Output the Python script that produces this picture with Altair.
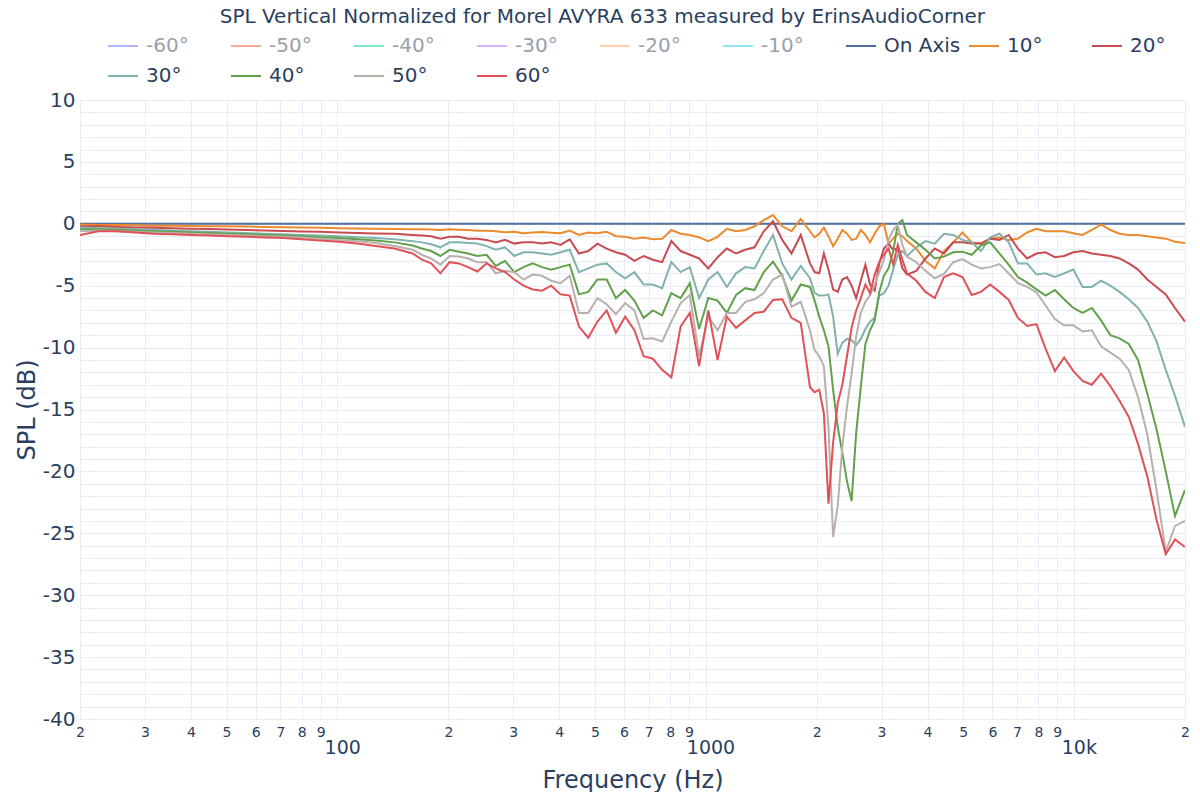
import altair as alt
import pandas as pd

TITLE = "SPL Vertical Normalized for Morel AVYRA 633 measured by ErinsAudioCorner"

SERIES_NAMES = ["-60°", "-50°", "-40°", "-30°", "-20°", "-10°", "On Axis",
                "10°", "20°", "30°", "40°", "50°", "60°"]
COLORS = ["#b1b6fc", "#f7aa9d", "#7fe5ca", "#d5b1fc", "#ffd0ac", "#8ce9f9", "#4e6d9e",
          "#ec8a2e", "#c84b52", "#82b2ae", "#62a04c", "#b8b0ac", "#e05258"]

FREQ = [
    20, 22.4, 25.2, 28.3, 31.7, 35.6, 40, 44.9, 50.4, 56.6, 63.5, 71.3, 80, 89.8, 100.8, 113, 127, 143,
    160, 169.5, 179.6, 190.3, 201.6, 213.6, 226.3, 239.7, 254, 269.1, 285.1, 302, 320, 339, 359.2, 380.5,
    403.2, 427.1, 452.5, 479.5, 508, 538.2, 570.2, 604.1, 640, 678.1, 718.4, 761.1, 806.4, 854.4, 905.1,
    959, 1016, 1076.5, 1140.5, 1208.3, 1280, 1356.1, 1436.8, 1522.3, 1612.8, 1708.8, 1810.4, 1918.2,
    1974.4, 2032.3, 2091.9, 2153.2, 2216.4, 2281.3, 2348.2, 2417.1, 2488, 2560, 2635.1, 2712.4, 2791.9,
    2873.8, 2958.1, 3044.8, 3134.1, 3226, 3320.6, 3418, 3518.2,
    3727.6, 3949.4, 4184.4, 4433.4, 4697.3, 4976.8, 5273, 5586, 5918, 6270, 6643, 7038, 7456, 7900, 8370,
    8867, 9394, 9953, 10545, 11172, 11836, 12540, 13285, 14075, 14912, 15799, 16739, 17734, 18788, 20000,
]

ON_AXIS_FREQ = [20, 20000]
ON_AXIS_DB = [0.0, 0.0]

DB_10 = [
    -0.05, -0.1, -0.1, -0.12, -0.15, -0.15, -0.18, -0.2, -0.2, -0.22, -0.25, -0.27, -0.3, -0.32, -0.35, -0.38, -0.4, -0.43,
    -0.45, -0.45, -0.47, -0.5, -0.45, -0.48, -0.5, -0.56, -0.56, -0.6, -0.68, -0.64, -0.77, -0.7, -0.67, -0.72,
    -0.77, -0.55, -0.9, -0.7, -0.77, -0.64, -1.0, -1.05, -1.2, -1.1, -1.25, -1.2, -0.5, -0.8, -0.9,
    -1.1, -1.4, -1.05, -0.4, -0.6, -0.5, -0.2, 0.3, 0.7, -0.2, -0.6, 0.4, -0.6,
    -1.1, -0.8, -0.3, -1.0, -1.8, -1.2, -0.5, -0.8, -1.3, -1.2, -0.5, -0.9, -1.5,
    -0.8, -0.2, 0.0, -1.6, -1.2, -0.8, -1.0, -1.4,
    -2.0, -3.0, -3.6, -2.2, -1.5, -0.7, -1.5, -1.6, -1.2, -1.1, -1.3, -1.2, -0.7, -0.4, -0.6,
    -0.6, -0.6, -0.77, -0.9, -0.5, -0.05, -0.5, -0.8, -0.9, -0.9, -1.0, -1.1, -1.2, -1.45, -1.55,
]

DB_20 = [
    -0.2, -0.2, -0.25, -0.3, -0.32, -0.35, -0.4, -0.43, -0.47, -0.5, -0.55, -0.58, -0.62, -0.65, -0.7, -0.75, -0.78, -0.8,
    -0.9, -0.95, -1.0, -1.2, -1.05, -1.05, -1.2, -1.2, -1.3, -1.5, -1.3, -1.6, -1.5, -1.5, -1.6, -1.5,
    -1.7, -1.25, -2.4, -2.2, -1.6, -2.0, -2.3, -2.5, -3.0, -2.6, -2.9, -3.1, -1.4, -2.2, -2.5,
    -2.8, -3.6, -2.7, -2.0, -2.4, -2.1, -1.9, -0.6, 0.2, -1.3, -2.4, -0.9, -3.2,
    -3.9, -4.0, -2.4, -3.7, -5.3, -5.5, -4.5, -4.3, -5.0, -6.0, -4.6, -3.3, -4.9,
    -5.4, -3.2, -2.0, -1.6, -2.1, -2.0, -3.6, -4.1,
    -3.8, -2.8, -2.0, -2.4, -1.5, -1.5, -1.6, -1.6, -1.2, -1.3, -0.9, -2.0, -2.8, -2.4, -2.3,
    -2.7, -2.6, -2.3, -2.2, -2.4, -2.5, -2.6, -2.8, -3.2, -3.7, -4.5, -5.1, -5.7, -6.8, -7.9,
]

DB_30 = [
    -0.3, -0.35, -0.4, -0.45, -0.5, -0.55, -0.6, -0.65, -0.7, -0.75, -0.8, -0.85, -0.9, -0.95, -1.0, -1.08, -1.15, -1.25,
    -1.4, -1.5, -1.65, -1.9, -1.5, -1.5, -1.55, -1.6, -1.8, -2.1, -1.9, -2.6, -2.3, -2.3, -2.4, -2.5,
    -2.3, -2.1, -3.9, -3.6, -3.3, -3.2, -3.9, -4.4, -3.9, -4.9, -4.9, -5.2, -3.1, -3.9, -3.5,
    -6.0, -4.5, -3.9, -5.1, -4.0, -3.5, -3.6, -2.2, -0.9, -3.2, -4.5, -3.4, -4.4,
    -5.6, -5.8, -5.8, -5.7, -7.5, -10.5, -9.6, -9.3, -9.4, -9.8, -9.3, -8.5, -7.9,
    -7.6, -5.8, -5.6, -5.0, -3.7, -2.5, -2.2, -2.6,
    -1.9, -1.4, -1.6, -0.8, -0.9, -1.3, -1.5, -2.2, -1.1, -0.8, -1.5, -3.2, -3.2, -4.1, -4.0,
    -4.3, -4.0, -3.7, -5.1, -5.1, -4.6, -5.0, -5.5, -6.1, -6.8, -7.9, -9.5, -11.8, -13.9, -16.4,
]

DB_40 = [
    -0.45, -0.45, -0.5, -0.55, -0.6, -0.65, -0.7, -0.75, -0.8, -0.85, -0.9, -0.95, -1.0, -1.08, -1.15, -1.25, -1.35, -1.5,
    -1.75, -2.0, -2.2, -2.6, -2.1, -2.25, -2.4, -2.6, -2.5, -3.4, -3.0, -3.9, -3.5, -3.2, -3.5, -3.7,
    -3.5, -3.3, -5.7, -5.5, -4.5, -4.5, -6.0, -5.35, -6.2, -7.6, -7.0, -7.4, -5.6, -6.0, -4.8,
    -8.5, -6.0, -6.2, -7.2, -5.75, -5.2, -5.35, -3.9, -3.06, -4.2, -6.2, -4.9, -5.1,
    -6.2, -7.5, -8.6, -9.9, -13.4, -16.4, -18.5, -20.8, -22.4, -16.9, -13.2, -9.7, -8.6,
    -7.8, -5.5, -4.2, -3.6, -2.25, 0.0, 0.3, -0.9,
    -1.5, -2.1, -2.8, -2.65, -2.3, -2.25, -2.5, -1.75, -1.5, -2.4, -3.3, -4.3, -4.75, -5.3, -5.8,
    -5.35, -6.1, -6.8, -7.2, -6.8, -7.8, -9.0, -9.25, -9.7, -11.0, -13.7, -16.6, -20.0, -23.6, -21.5,
]

DB_50 = [
    -0.6, -0.55, -0.6, -0.65, -0.7, -0.75, -0.8, -0.85, -0.9, -0.95, -1.0, -1.05, -1.1, -1.2, -1.3, -1.4, -1.55, -1.8,
    -2.1, -2.5, -2.8, -3.3, -2.6, -2.65, -2.8, -3.1, -3.1, -4.0, -3.8, -3.9, -4.5, -4.1, -4.2, -4.6,
    -4.8, -4.2, -7.2, -7.2, -6.0, -6.5, -7.3, -6.4, -7.0, -9.3, -9.25, -9.5, -7.9, -6.4, -5.75,
    -10.7, -7.5, -8.6, -7.2, -7.2, -6.3, -6.1, -5.6, -4.5, -4.1, -6.7, -6.3, -8.6,
    -10.2, -10.7, -11.5, -16.4, -25.3, -22.8, -18.0, -14.8, -12.1, -9.1, -7.2, -6.3, -5.75,
    -4.9, -3.9, -2.9, -1.3, -0.5, -0.1, -1.7, -2.65,
    -3.1, -3.8, -4.4, -4.05, -3.1, -2.85, -3.3, -3.6, -3.5, -3.25, -4.0, -4.8, -5.1, -5.55, -6.6,
    -7.7, -8.2, -8.2, -8.7, -8.6, -9.9, -10.4, -10.9, -11.8, -14.0, -17.0, -21.5, -26.5, -24.4, -24.0,
]

DB_60 = [
    -0.9, -0.6, -0.6, -0.7, -0.8, -0.85, -0.9, -0.95, -1.0, -1.05, -1.1, -1.15, -1.25, -1.35, -1.45, -1.6, -1.8, -2.0,
    -2.4, -2.9, -3.2, -4.0, -3.1, -3.2, -3.5, -3.85, -3.2, -3.6, -3.9, -4.5, -5.0, -5.3, -5.4, -5.0,
    -5.7, -5.8, -8.3, -9.2, -7.9, -7.0, -8.8, -7.5, -8.6, -10.7, -10.9, -11.8, -12.4, -8.3, -7.2,
    -11.5, -7.0, -11.0, -7.5, -8.4, -7.8, -7.2, -7.1, -6.15, -6.1, -7.6, -8.0, -13.2,
    -13.6, -13.4, -15.3, -22.6, -17.7, -14.5, -13.0, -10.7, -8.4, -7.0, -6.0, -4.9, -5.6,
    -4.1, -3.06, -2.5, -2.0, -3.3, -1.7, -2.9, -4.0,
    -4.6, -5.5, -6.0, -4.3, -4.0, -4.3, -5.75, -5.5, -4.9, -5.5, -6.15, -7.6, -8.25, -8.1, -10.1,
    -11.9, -10.8, -11.9, -12.7, -13.0, -12.1, -13.1, -14.3, -15.6, -17.8, -20.4, -23.9, -26.7, -25.5, -26.1,
]

MINOR_TICKS = [20, 30, 40, 50, 60, 70, 80, 90, 100, 200, 300, 400, 500, 600, 700, 800, 900,
               1000, 2000, 3000, 4000, 5000, 6000, 7000, 8000, 9000, 10000, 20000]
MAJOR_TICKS = [103, 1030, 10300]
MAJOR_LABELS = ["100", "1000", "10k"]
Y_GRID = list(range(-40, 11))

rows = []
for f, v in zip(ON_AXIS_FREQ, ON_AXIS_DB):
    rows.append(("On Axis", f, v))
for name, vals in [("10°", DB_10), ("20°", DB_20), ("30°", DB_30),
                   ("40°", DB_40), ("50°", DB_50), ("60°", DB_60)]:
    assert len(vals) == len(FREQ), (name, len(vals), len(FREQ))
    for f, v in zip(FREQ, vals):
        rows.append((name, f, v))
df = pd.DataFrame(rows, columns=["series", "freq", "spl"])
major_df = pd.DataFrame({"freq": MAJOR_TICKS})

FONT = "DejaVu Sans"
TXT = "#2a3f5f"
GRID = "#e8edf5"

xscale = alt.Scale(type="log", domain=[20, 20000], nice=False)

lines = alt.Chart(df).mark_line(strokeWidth=2, clip=True).encode(
    x=alt.X("freq:Q", scale=xscale,
            axis=alt.Axis(values=MINOR_TICKS, orient="bottom", title=None,
                          labelExpr="(datum.value == 100 || datum.value == 1000 || datum.value == 10000) ? '' : substring(format(datum.value, 'd'), 0, 1)",
                          grid=True, gridColor=GRID, gridWidth=1, ticks=False, domain=False,
                          labelFont=FONT, labelFontSize=14, labelColor=TXT, labelPadding=6,
                          labelOverlap=False, labelBound=False, labelFlush=False, labelAlign="center")),
    y=alt.Y("spl:Q", scale=alt.Scale(domain=[-40, 10], nice=False),
            axis=alt.Axis(values=Y_GRID, title="SPL (dB)",
                          labelExpr="datum.value % 5 === 0 ? toString(datum.value) : ''",
                          grid=True, gridColor=GRID, gridWidth=1, ticks=False, domain=False,
                          labelFont=FONT, labelFontSize=20, labelColor=TXT, labelPadding=5,
                          labelOverlap=False, labelBound=False, labelFlush=False,
                          titleFont=FONT, titleFontSize=24, titleFontWeight="normal",
                          titleColor=TXT, titlePadding=3)),
    color=alt.Color("series:N",
                    scale=alt.Scale(domain=SERIES_NAMES, range=COLORS),
                    sort=SERIES_NAMES,
                    legend=alt.Legend(title=None, orient="none", legendX=27, legendY=-70,
                                      direction="horizontal", columns=9, gridAlign="all",
                                      symbolType="stroke", symbolSize=900, symbolStrokeWidth=2,
                                      labelFont=FONT, labelFontSize=20,
                                      labelColor=alt.ExprRef("substring(datum.label, 0, 1) === '-' ? '#98a0ac' : '#2a3f5f'"),
                                      labelOffset=7, columnPadding=4, rowPadding=4,
                                      padding=0, labelLimit=0)),
)

majors = alt.Chart(major_df).mark_point(opacity=0).encode(
    x=alt.X("freq:Q", scale=xscale,
            axis=alt.Axis(values=MAJOR_TICKS, orient="bottom", title="Frequency (Hz)",
                          labelExpr="datum.value > 10000 ? '10k' : (datum.value > 1000 ? '1000' : '100')",
                          grid=False, ticks=False, domain=False,
                          labelFont=FONT, labelFontSize=19, labelColor=TXT, labelPadding=19,
                          labelOverlap=False, labelBound=False, labelFlush=False,
                          titleFont=FONT, titleFontSize=24, titleFontWeight="normal",
                          titleColor=TXT, titlePadding=11)),
)

chart = alt.layer(lines, majors).resolve_axis(x="independent").properties(
    width=1105, height=619,
    title=alt.TitleParams(TITLE, fontSize=20, font=FONT, color=TXT, fontWeight="normal",
                          anchor="middle", frame="bounds", offset=3),
    autosize=alt.AutoSizeParams(type="none"),
    padding={"left": 72, "top": 92, "right": 7, "bottom": 73},
).configure_view(stroke=None).configure(background="white")

chart.save("out.html", embed_options={"renderer": "svg", "actions": False})
